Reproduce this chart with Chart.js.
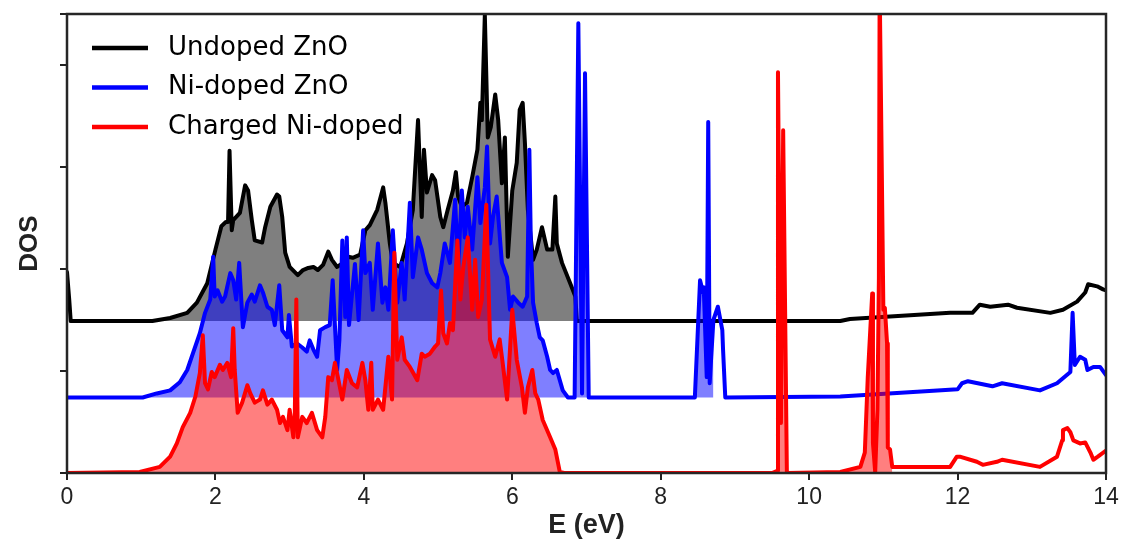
<!DOCTYPE html>
<html>
<head>
<meta charset="utf-8">
<script src="https://cdn.jsdelivr.net/npm/chart.js@4/dist/chart.umd.min.js"></script>
<style>
  html, body { margin: 0; padding: 0; background: #fff; }
  #wrap { width: 1123px; height: 540px; }
</style>
</head>
<body>
<div id="wrap"><canvas id="dosChart"></canvas></div>
<script>
// energies in eV, DOS values as plotted (curves are offset vertically)
const undopedE = [0,0.03,0.05,1.15,1.39,1.62,1.75,1.89,2.0,2.08,2.14,2.17,2.19,2.22,2.24,2.33,2.40,2.44,2.49,2.53,
  2.63,2.67,2.74,2.83,2.86,2.9,2.94,3.0,3.11,3.18,3.25,3.32,3.38,3.45,3.52,3.57,3.64,3.72,3.79,3.85,
  3.95,4.02,4.08,4.18,4.26,4.29,4.35,4.39,4.49,4.58,4.66,4.73,4.78,4.81,4.85,4.92,4.96,5.03,5.07,5.13,
  5.2,5.24,5.27,5.32,5.39,5.46,5.53,5.57,5.59,5.63,5.67,5.71,5.77,5.81,5.86,5.9,5.94,6.0,6.06,6.1,
  6.14,6.17,6.21,6.28,6.33,6.4,6.47,6.54,6.58,6.6,6.67,6.78,6.85,6.87,10.42,10.55,11.9,12.2,12.3,12.44,
  12.68,12.8,13.25,13.42,13.61,13.72,13.76,13.88,13.96,14.0];
const undopedDOS = [1.97,1.70,1.49,1.49,1.52,1.57,1.67,1.86,2.19,2.42,2.46,2.46,3.16,2.38,2.48,2.55,2.82,2.77,2.48,2.28,
  2.26,2.41,2.61,2.73,2.71,2.51,2.16,2.02,1.94,1.99,2.01,2.02,1.99,2.04,2.17,2.09,2.02,2.06,2.12,2.11,
  2.14,2.38,2.43,2.58,2.80,2.65,2.25,2.06,2.02,2.25,2.58,3.46,2.51,3.17,2.75,2.92,2.87,2.51,2.41,2.58,
  2.77,2.95,2.71,2.61,2.65,2.90,3.17,3.63,3.46,4.49,3.29,3.39,3.71,3.46,2.84,3.29,2.12,2.77,3.04,3.56,
  3.63,3.24,2.58,2.09,2.19,2.41,2.19,2.19,2.71,2.25,2.06,1.86,1.73,1.49,1.49,1.51,1.57,1.57,1.65,1.63,
  1.65,1.62,1.57,1.60,1.68,1.77,1.85,1.83,1.80,1.79];

const niE = [0,1.02,1.21,1.39,1.52,1.62,1.7,1.79,1.86,1.93,1.97,1.99,2.03,2.09,2.13,2.2,2.24,2.28,2.32,2.37,
  2.43,2.49,2.53,2.6,2.64,2.7,2.76,2.8,2.86,2.9,2.97,2.99,3.03,3.1,3.17,3.23,3.27,3.32,3.37,3.41,
  3.48,3.54,3.58,3.64,3.67,3.71,3.75,3.77,3.8,3.88,3.93,3.99,4.02,4.08,4.12,4.19,4.25,4.29,4.33,4.39,
  4.45,4.51,4.55,4.62,4.66,4.73,4.78,4.85,4.92,4.99,5.03,5.09,5.16,5.23,5.27,5.32,5.36,5.4,5.46,5.53,
  5.57,5.63,5.66,5.7,5.74,5.79,5.86,5.93,5.97,6.01,6.08,6.14,6.2,6.23,6.25,6.28,6.33,6.37,6.41,6.47,
  6.51,6.55,6.6,6.68,6.75,6.84,6.89,6.94,6.98,7.03,8.46,8.53,8.57,8.58,8.62,8.64,8.66,8.71,8.77,8.83,
  8.84,8.87,10.42,12.0,12.06,12.14,12.47,12.6,13.11,13.34,13.52,13.55,13.58,13.65,13.72,13.75,13.83,13.92,14.0];
const niDOS = [0.74,0.74,0.78,0.81,0.89,1.01,1.18,1.37,1.57,1.70,2.12,1.73,1.79,1.68,1.73,1.96,1.89,1.70,2.06,1.43,
  1.67,1.75,1.68,1.84,1.77,1.63,1.60,1.45,1.84,1.40,1.33,1.55,1.24,1.27,1.23,1.19,1.30,1.21,1.14,1.40,
  1.43,1.45,1.89,1.01,1.30,2.28,1.53,2.31,1.45,2.05,1.50,2.38,1.96,2.06,1.60,2.25,1.67,1.82,1.60,2.38,
  1.67,2.06,1.70,2.65,1.92,2.31,2.19,1.96,1.86,1.82,1.96,2.25,2.06,2.68,1.99,2.77,2.31,2.61,2.19,2.90,
  2.45,2.80,3.20,2.25,2.51,2.71,2.06,1.92,1.60,1.73,1.67,1.63,1.73,3.17,2.25,1.67,1.47,1.33,1.30,1.14,
  1.01,0.98,1.01,0.81,0.74,0.74,4.41,0.78,3.92,0.74,0.74,1.89,1.77,1.82,0.94,3.44,0.88,1.50,1.63,1.40,
  1.21,0.74,0.75,0.82,0.88,0.90,0.85,0.88,0.81,0.88,0.99,1.57,1.06,1.14,1.11,1.01,1.04,1.04,0.96];

const chargedE = [0,0.98,1.25,1.39,1.48,1.56,1.66,1.73,1.79,1.83,1.86,1.9,1.95,1.99,2.06,2.1,2.16,2.21,2.24,2.26,
  2.3,2.36,2.43,2.47,2.53,2.6,2.64,2.7,2.76,2.83,2.87,2.91,2.97,3.0,3.05,3.07,3.09,3.11,3.17,3.23,
  3.3,3.37,3.44,3.48,3.52,3.57,3.61,3.65,3.71,3.77,3.84,3.91,3.98,4.02,4.06,4.1,4.12,4.19,4.26,4.33,
  4.38,4.41,4.45,4.51,4.55,4.62,4.72,4.78,4.82,4.89,4.96,5.0,5.04,5.07,5.12,5.16,5.2,5.26,5.3,5.34,
  5.4,5.46,5.5,5.54,5.59,5.65,5.7,5.77,5.83,5.87,5.93,6.0,6.06,6.13,6.17,6.21,6.27,6.31,6.35,6.41,
  6.51,6.58,6.64,6.7,9.5,9.57,9.58,9.62,9.65,9.7,10.42,10.69,10.75,10.79,10.85,10.86,10.89,10.92,10.94,10.95,
  10.98,11.0,11.02,11.05,11.06,11.09,11.12,11.9,11.99,12.03,12.26,12.34,12.53,12.6,13.11,13.34,13.41,13.42,13.48,13.52,
  13.56,13.65,13.72,13.79,13.83,13.89,14.0];
const chargedDOS = [0,0.01,0.06,0.16,0.29,0.45,0.59,0.75,0.98,1.35,0.88,0.82,0.99,0.94,1.06,1.01,1.08,0.94,1.42,1.01,
  0.59,0.69,0.86,0.78,0.69,0.72,0.81,0.67,0.72,0.62,0.49,0.55,0.42,0.62,0.35,0.60,1.70,0.35,0.55,0.49,
  0.59,0.42,0.35,0.55,0.94,0.91,1.08,0.94,0.72,1.01,0.88,0.84,1.08,0.91,0.62,1.08,0.62,0.72,0.62,1.14,
  0.72,2.16,1.11,1.33,1.11,1.04,0.91,1.17,1.14,1.17,1.24,1.27,1.79,1.37,1.27,1.47,1.40,2.28,1.70,2.02,
  2.31,1.60,2.09,1.53,1.70,2.63,1.31,1.14,1.31,1.08,0.72,1.60,1.11,0.84,0.59,0.84,1.01,0.78,0.72,0.52,
  0.35,0.23,0.01,0,0,0.02,3.93,0.49,3.36,0,0.01,0.06,0.20,0.94,1.76,0.29,0.01,0.62,1.92,4.8,
  2.90,1.60,1.62,1.27,0.25,0.23,0.06,0.06,0.16,0.16,0.11,0.08,0.11,0.13,0.06,0.16,0.32,0.42,0.44,0.40,
  0.32,0.29,0.30,0.20,0.13,0.16,0.22];

const seriesNames = ['Undoped ZnO', 'Ni-doped ZnO', 'Charged Ni-doped'];
const baselines = [1.49, 0.74, 0];        // vertical offsets of the three curves
const fillRanges = [[1.0, 6.9], [0, 8.72], [0, 11.12]];
const xTicks = [0, 2, 4, 6, 8, 10, 12, 14];

const lineColors = ['#000000', '#0000ff', '#ff0000'];
const fillColors = ['rgba(0,0,0,0.5)', 'rgba(0,0,255,0.5)', 'rgba(255,0,0,0.5)'];

function toPoints(xs, ys) {
  const n = Math.min(xs.length, ys.length);
  const pts = [];
  for (let i = 0; i < n; i++) pts.push({x: xs[i], y: ys[i]});
  return pts;
}

const allSeries = [
  toPoints(undopedE, undopedDOS),
  toPoints(niE, niDOS),
  toPoints(chargedE, chargedDOS)
];

const datasets = [];
allSeries.forEach((pts, i) => {
  const [lo, hi] = fillRanges[i];
  // filled area down to the curve's own baseline
  datasets.push({
    label: seriesNames[i] + ' fill',
    data: pts.filter(p => p.x >= lo && p.x <= hi),
    borderWidth: 0,
    backgroundColor: fillColors[i],
    fill: {value: baselines[i]},
    pointRadius: 0,
    tension: 0,
    order: 5 - i * 2
  });
  datasets.push({
    label: seriesNames[i],
    data: pts,
    borderColor: lineColors[i],
    backgroundColor: lineColors[i],
    borderWidth: 4,
    borderJoinStyle: 'round',
    borderCapStyle: 'round',
    fill: false,
    pointRadius: 0,
    tension: 0,
    order: 4 - i * 2
  });
});

const framePlugin = {
  id: 'frame',
  afterDraw(chart) {
    const {ctx, chartArea: a} = chart;
    ctx.save();
    ctx.strokeStyle = '#262626';
    ctx.lineWidth = 2.5;
    ctx.strokeRect(a.left, a.top, a.right - a.left, a.bottom - a.top);

    // legend in the top left corner of the plot
    ctx.font = '26px "DejaVu Sans"';
    ctx.textBaseline = 'middle';
    ctx.fillStyle = '#000';
    seriesNames.forEach((name, i) => {
      const y = a.top + 34 + i * 39.5;
      ctx.beginPath();
      ctx.strokeStyle = lineColors[i];
      ctx.lineWidth = 4.5;
      ctx.moveTo(a.left + 25, y);
      ctx.lineTo(a.left + 81, y);
      ctx.stroke();
      ctx.fillText(name, a.left + 101, y);
    });
    ctx.restore();
  }
};

const tickFont = {family: '"Liberation Sans Narrow", "Liberation Sans", Arial, sans-serif', size: 23};

new Chart(document.getElementById('dosChart'), {
  type: 'line',
  data: {datasets: datasets},
  options: {
    responsive: true,
    maintainAspectRatio: false,
    animation: false,
    layout: {padding: {top: 14, right: 17, left: 0, bottom: 0}},
    plugins: {
      legend: {display: false},
      tooltip: {enabled: false}
    },
    scales: {
      x: {
        type: 'linear',
        min: 0,
        max: 14,
        afterBuildTicks(scale) { scale.ticks = xTicks.map(v => ({value: v})); },
        afterFit(scale) { scale.height = 67; },
        border: {display: false},
        grid: {drawOnChartArea: false, drawTicks: true, tickLength: 7, color: '#222', lineWidth: 2},
        ticks: {font: tickFont, color: '#222', padding: 4, maxRotation: 0},
        title: {display: true, text: 'E (eV)', color: '#222',
          font: {family: '"Liberation Sans", Arial, sans-serif', size: 27, weight: 'bold', lineHeight: 1},
          padding: {top: 0, bottom: 1}}
      },
      y: {
        type: 'linear',
        min: 0,
        max: 4.5,
        ticks: {stepSize: 1, display: false},
        afterFit(scale) { scale.width = 67; },
        border: {display: false},
        grid: {drawOnChartArea: false, drawTicks: true, tickLength: 7, color: '#222', lineWidth: 2},
        title: {display: true, text: 'DOS', color: '#222',
          font: {family: '"Liberation Sans", Arial, sans-serif', size: 26, weight: 'bold', lineHeight: 1},
          padding: {top: 17, bottom: 0}}
      }
    }
  },
  plugins: [framePlugin]
});
</script>
</body>
</html>
